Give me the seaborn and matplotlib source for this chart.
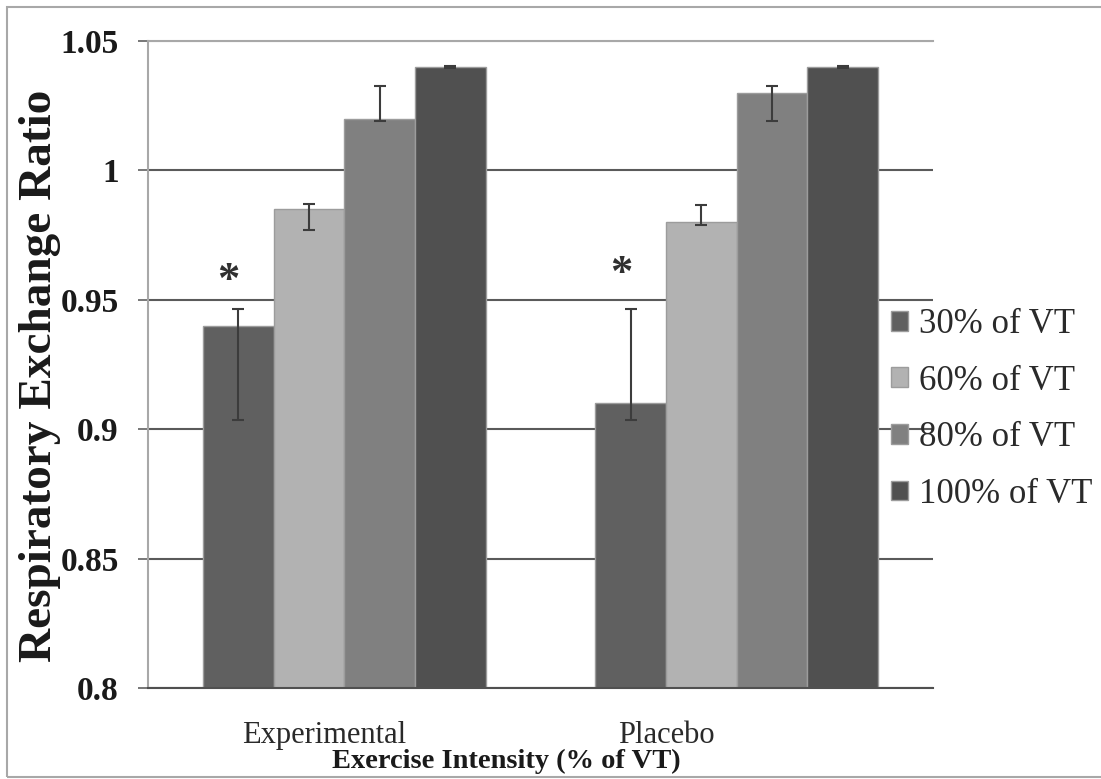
import numpy as np
import pandas as pd
import matplotlib
matplotlib.use("Agg")
import matplotlib.pyplot as plt
import seaborn as sns
from matplotlib.patches import Rectangle
from matplotlib.transforms import ScaledTranslation

# Respiratory exchange ratio by condition and exercise intensity
groups = ["Experimental", "Placebo"]
levels = ["30% of VT", "60% of VT", "80% of VT", "100% of VT"]
bar_colors = ["#606060", "#b2b2b2", "#808080", "#505050"]

exp_values = [0.94, 0.985, 1.02, 1.04]
pla_values = [0.91, 0.98, 1.03, 1.04]

# error bar end points (lower / upper)
exp_low = [0.9035, 0.977, 1.019, 1.0397]
exp_high = [0.9465, 0.987, 1.0325, 1.0403]
pla_low = [0.9035, 0.979, 1.019, 1.0397]
pla_high = [0.9465, 0.9866, 1.0325, 1.0403]

# significance markers above the 30% bars
star_y = [0.9572, 0.9599]

ytick_values = [0.8, 0.85, 0.9, 0.95, 1.0, 1.05]
ytick_labels = ["0.8", "0.85", "0.9", "0.95", "1", "1.05"]

rows = []
for g, vals, lo, hi in zip(groups, [exp_values, pla_values],
                           [exp_low, pla_low], [exp_high, pla_high]):
    for lvl, v, l, h in zip(levels, vals, lo, hi):
        rows.append({"group": g, "intensity": lvl, "ratio": v, "low": l, "high": h})
df = pd.DataFrame(rows)

sns.set_theme(style="white")
plt.rcParams["font.family"] = ["Liberation Serif", "DejaVu Serif"]

W, H = 1101, 779
fig = plt.figure(figsize=(W / 100, H / 100), dpi=100)
ax = fig.add_axes([148 / W, 1 - 688 / H, (933 - 148) / W, (688 - 41) / H])

sns.barplot(data=df, x="group", y="ratio", hue="intensity",
            order=groups, hue_order=levels, palette=bar_colors,
            saturation=1, width=0.72, errorbar=None,
            edgecolor="#9c9c9c", linewidth=1.0, ax=ax)

# asymmetric error bars on each bar
for lvl, cont in zip(levels, ax.containers):
    sub = df[df["intensity"] == lvl].set_index("group").loc[groups]
    xs = [b.get_x() + b.get_width() / 2 for b in cont]
    yerr = [sub["ratio"] - sub["low"], sub["high"] - sub["ratio"]]
    ax.errorbar(xs, sub["ratio"], yerr=yerr, fmt="none", ecolor="#3c3c3c",
                elinewidth=1.5, capsize=4, capthick=1.5, zorder=4)

# asterisks over the 30% bars
first = ax.containers[0]
for b, sy in zip(first, star_y):
    ax.annotate("*", xy=(b.get_x() + b.get_width() / 2, sy),
                xytext=(-7, 0), textcoords="offset points",
                ha="center", va="center", fontsize=32, fontweight="bold",
                color="#303030")

ax.set_xlim(-0.5, len(groups) - 0.5)
ax.set_ylim(0.8, 1.05)
ax.set_yticks(ytick_values)
ax.set_yticklabels(ytick_labels, fontsize=24, fontweight="bold")
ax.tick_params(axis="y", left=True, length=7, width=1.2, color="#606060",
               pad=14, labelcolor="#1a1a1a")
ax.tick_params(axis="x", length=0, pad=24, labelsize=22, labelcolor="#2a2a2a")

offsets = [-0.20, -0.70]
for lbl, dx in zip(ax.get_xticklabels(), offsets):
    lbl.set_transform(lbl.get_transform() + ScaledTranslation(dx, 0, fig.dpi_scale_trans))

ax.yaxis.grid(True, color="#5a5a5a", linewidth=1.5)
ax.set_axisbelow(True)
ax.get_ygridlines()[-1].set_color("#a8a8a8")

ax.spines["right"].set_visible(False)
ax.spines["top"].set_color("#a8a8a8")
ax.spines["top"].set_linewidth(1.5)
ax.spines["left"].set_color("#a8a8a8")
ax.spines["left"].set_linewidth(1.5)
ax.spines["bottom"].set_color("#505050")
ax.spines["bottom"].set_linewidth(1.5)

ax.set_xlabel("Exercise Intensity (% of VT)", fontsize=20.5, fontweight="bold",
              color="#1a1a1a", va="center")
ax.xaxis.set_label_coords(0.457, -0.113)
ax.set_ylabel("Respiratory Exchange Ratio", fontsize=34, fontweight="bold",
              color="#1a1a1a", va="center")
ax.yaxis.set_label_coords(-0.137, 0.482)

handles, labels = ax.get_legend_handles_labels()
if ax.get_legend() is not None:
    ax.get_legend().remove()
fig.legend(handles, labels, loc="upper left",
           bbox_to_anchor=(891 / W, 1 - 308 / H), frameon=False,
           fontsize=25, handlelength=0.5, handleheight=0.5,
           handletextpad=0.3, labelspacing=0.68, borderaxespad=0,
           borderpad=0, labelcolor="#2a2a2a")

# thin frame around the whole chart
fig.add_artist(Rectangle((7 / W, 2 / H), 1.2, 770 / H, transform=fig.transFigure,
                         fill=False, edgecolor="#a8a8a8", linewidth=1.5))

fig.savefig("out.png", dpi=100)
